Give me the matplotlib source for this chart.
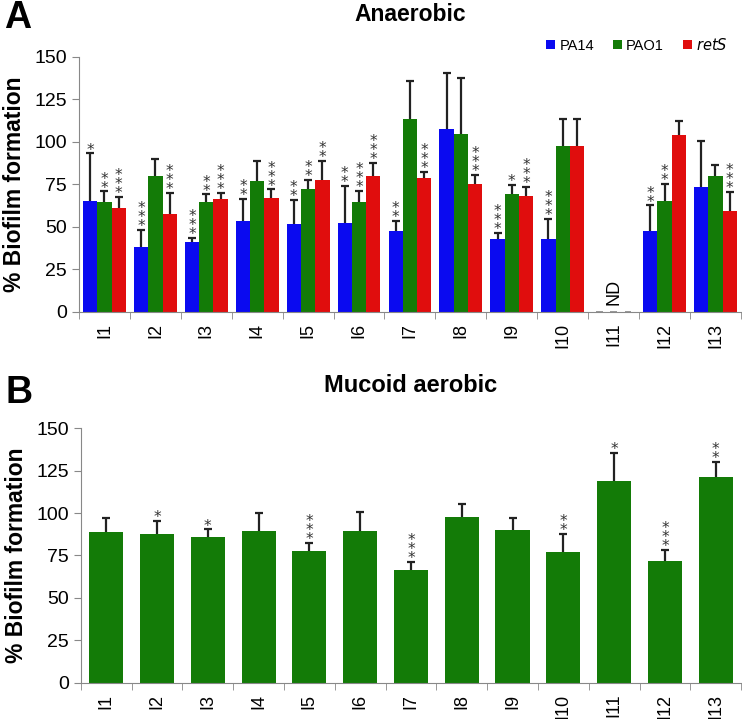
import numpy as np
import matplotlib
matplotlib.use('Agg')
import matplotlib.pyplot as plt

plt.rcParams['font.family'] = ['Liberation Sans', 'DejaVu Sans']

isolates = ['I1', 'I2', 'I3', 'I4', 'I5', 'I6', 'I7', 'I8', 'I9', 'I10', 'I11', 'I12', 'I13']

# Anaerobic (panel A)
pa14 = [65.3, 38.2, 41.2, 53.3, 51.8, 52.4, 47.5, 107.7, 42.6, 42.6, 0, 47.5, 73.1]
pa14_err = [27.8, 9.8, 2.3, 13.2, 13.9, 21.7, 6.1, 33.0, 4.0, 12.0, 0, 15.0, 27.1]
pa14_sig = ['*', '***', '***', '**', '**', '**', '**', '', '***', '***', '', '**', '']
pao1 = [64.3, 79.8, 64.3, 77.1, 72.2, 64.7, 113.6, 104.5, 69.0, 97.6, 0, 65.2, 79.6]
pao1_err = [6.5, 10.0, 4.7, 11.7, 5.3, 6.5, 22.0, 33.2, 5.7, 15.6, 0, 9.8, 7.0]
pao1_sig = ['**', '', '**', '', '**', '***', '', '', '*', '', '', '**', '']
rets = [61.2, 57.5, 66.1, 66.9, 77.6, 79.6, 78.4, 75.0, 68.2, 97.6, 0, 103.7, 59.5]
rets_err = [6.3, 12.3, 3.7, 5.1, 11.0, 7.9, 3.9, 5.7, 5.1, 16.0, 0, 8.5, 10.8]
rets_sig = ['***', '***', '***', '***', '**', '***', '***', '***', '***', '', '', '', '***']

# Mucoid aerobic (panel B)
mucoid = [89.1, 87.9, 85.9, 89.6, 77.5, 89.4, 66.4, 97.7, 89.8, 77.1, 119.1, 71.6, 121.1]
mucoid_err = [7.8, 7.4, 4.5, 10.7, 4.9, 11.4, 5.0, 7.9, 7.1, 10.8, 16.3, 6.6, 9.0]
mucoid_sig = ['', '*', '*', '', '***', '', '***', '', '', '**', '*', '***', '**']

blue = '#0a0af0'
green = '#137b07'
red = '#e00d0d'

fig = plt.figure(figsize=(7.42, 7.19), dpi=100)
ax1 = fig.add_axes([0.1065, 0.5665, 0.892, 0.3545])
ax2 = fig.add_axes([0.1088, 0.0505, 0.890, 0.3538])

x = np.arange(len(isolates)) + 0.5


def style_axis(ax):
    ax.set_xlim(0, len(isolates))
    ax.set_ylim(0, 150)
    ax.set_yticks([0, 25, 50, 75, 100, 125, 150])
    ax.tick_params(axis='y', labelsize=14, color='#888888', length=5)
    ax.set_xticks(x)
    ax.set_xticklabels(isolates, rotation=90, fontsize=13)
    ax.tick_params(axis='x', length=0, pad=8)
    ax.set_xticks(np.arange(len(isolates) + 1), minor=True)
    ax.tick_params(axis='x', which='minor', length=5, color='#888888')
    for s in ['top', 'right']:
        ax.spines[s].set_visible(False)
    for s in ['left', 'bottom']:
        ax.spines[s].set_color('#888888')
    ax.set_ylabel('% Biofilm formation', fontsize=16.5, fontweight='bold', labelpad=6)


def up_errors(ax, xs, vals, errs):
    eb = ax.errorbar(xs, vals, yerr=[np.zeros(len(vals)), errs], fmt='none',
                     ecolor='#222222', elinewidth=1.6, capsize=3, capthick=1.6)
    eb[1][0].set_visible(False)


def add_stars(ax, xs, tops, errs, sigs):
    for xi, t, e, s in zip(xs, tops, errs, sigs):
        if s:
            ax.text(xi, t + e - 2.5, '\n'.join(s), ha='center', va='bottom',
                    fontsize=11, linespacing=0.5, color='#333333',
                    family='DejaVu Sans')


w = 0.28
series = [(pa14, pa14_err, pa14_sig, blue, 'PA14', -w),
          (pao1, pao1_err, pao1_sig, green, 'PAO1', 0),
          (rets, rets_err, rets_sig, red, '$\\it{retS}$', w)]
for vals, errs, sigs, col, lab, off in series:
    xs = x + off
    ax1.bar(xs, vals, width=w, color=col, edgecolor='none', label=lab)
    plotted = [i for i, v in enumerate(vals) if v > 0]
    up_errors(ax1, xs[plotted], np.array(vals)[plotted], np.array(errs)[plotted])
    add_stars(ax1, xs, vals, errs, sigs)

# ND marks for I11
ax1.bar(x[10] + np.array([-w, 0, w]), [0.6, 0.6, 0.6], width=w * 0.45, color='#999999')
ax1.text(x[10], 4, 'ND', rotation=90, ha='center', va='bottom', fontsize=13)

style_axis(ax1)
ax1.legend(loc='upper right', bbox_to_anchor=(1.0, 1.13), ncol=3, frameon=False,
           fontsize=10.5, handlelength=0.6, handleheight=0.6, handletextpad=0.3,
           columnspacing=1.3)
ax1.set_title('Anaerobic', fontsize=16.5, fontweight='bold', pad=26)

ax2.bar(x, mucoid, width=0.67, color=green, edgecolor='none')
up_errors(ax2, x, mucoid, mucoid_err)
add_stars(ax2, x, mucoid, mucoid_err, mucoid_sig)
style_axis(ax2)
ax2.set_title('Mucoid aerobic', fontsize=17, fontweight='bold', pad=26)

fig.text(0.006, 0.975, 'A', fontsize=27, fontweight='bold', va='center')
fig.text(0.008, 0.453, 'B', fontsize=27, fontweight='bold', va='center')

fig.savefig('out.png', dpi=100)
